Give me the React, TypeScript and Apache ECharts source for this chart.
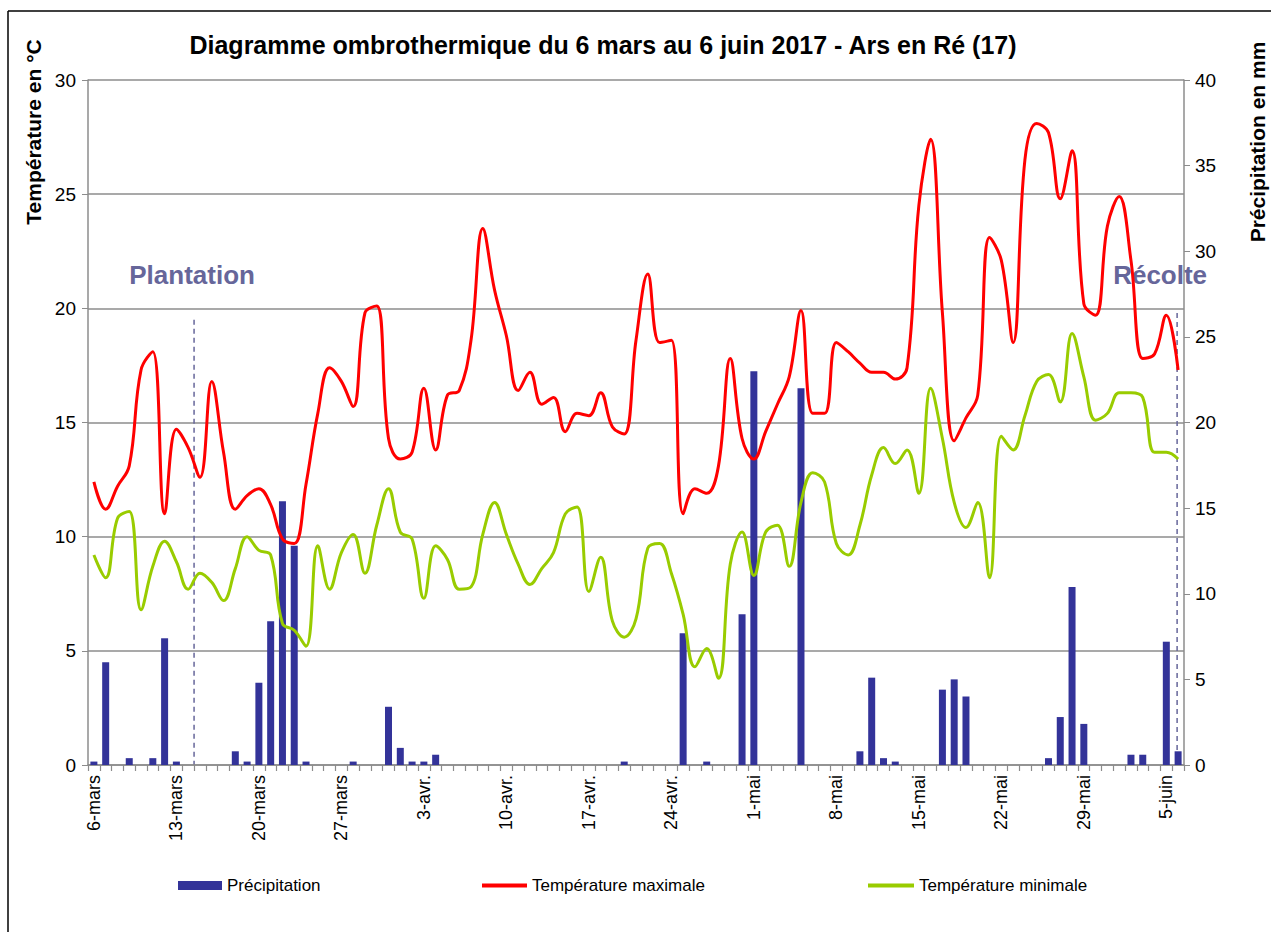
import React, { useEffect, useRef } from "react";
import * as echarts from "echarts";

const monthSpans: [string, number, number][] = [
  ["mars", 6, 31],
  ["avr.", 1, 30],
  ["mai", 1, 31],
  ["juin", 1, 6],
];
const categories: string[] = [];
monthSpans.forEach(([m, a, b]) => {
  for (let d = a; d <= b; d++) categories.push(`${d}-${m}`);
});

// Précipitation (mm), one value per day from 6 mars to 6 juin
const precipitation = [
  0.2, 6.0, 0, 0.4, 0, 0.4, 7.4, 0.2, 0, 0,
  0, 0, 0.8, 0.2, 4.8, 8.4, 15.4, 12.8, 0.2, 0,
  0, 0, 0.2, 0, 0, 3.4, 1.0, 0.2, 0.2, 0.6,
  0, 0, 0, 0, 0, 0, 0, 0, 0, 0,
  0, 0, 0, 0, 0, 0.2, 0, 0, 0, 0,
  7.7, 0, 0.2, 0, 0, 8.8, 23.0, 0, 0, 0,
  22.0, 0, 0, 0, 0, 0.8, 5.1, 0.4, 0.2, 0,
  0, 0, 4.4, 5.0, 4.0, 0, 0, 0, 0, 0,
  0, 0.4, 2.8, 10.4, 2.4, 0, 0, 0, 0.6, 0.6,
  0, 7.2, 0.8,
];

// Température maximale (°C)
const tempMax = [
  12.4, 11.2, 12.2, 13.1, 17.3, 18.1, 11.0, 14.7, 13.9, 12.6,
  16.8, 13.7, 11.2, 11.8, 12.1, 11.4, 9.9, 9.7, 12.3, 15.4,
  17.4, 16.8, 15.7, 19.8, 20.1, 14.3, 13.4, 13.7, 16.5, 13.8,
  16.2, 16.4, 18.6, 23.5, 20.8, 18.8, 16.4, 17.2, 15.8, 16.1,
  14.6, 15.4, 15.3, 16.3, 14.8, 14.5, 18.6, 21.5, 18.5, 18.6,
  11.0, 12.1, 11.9, 13.1, 17.8, 14.3, 13.4, 14.6, 15.8, 17.0,
  19.9, 15.4, 15.4, 18.5, 18.1, 17.6, 17.2, 17.2, 16.9, 17.4,
  24.5, 27.4, 19.8, 14.2, 15.2, 16.2, 23.1, 22.1, 18.5, 26.5,
  28.1, 27.7, 24.8, 26.9, 20.2, 19.7, 23.6, 24.9, 22.1, 17.8,
  18.0, 19.7, 17.3,
];

// Température minimale (°C)
const tempMin = [
  9.2, 8.2, 10.8, 11.1, 6.8, 8.7, 9.8, 8.9, 7.7, 8.4,
  8.0, 7.2, 8.6, 10.0, 9.4, 9.2, 6.2, 5.9, 5.2, 9.6,
  7.7, 9.3, 10.1, 8.4, 10.5, 12.1, 10.2, 9.9, 7.3, 9.6,
  9.0, 7.7, 7.8, 10.1, 11.5, 10.1, 8.8, 7.9, 8.6, 9.3,
  11.0, 11.3, 7.6, 9.1, 6.3, 5.6, 6.4, 9.5, 9.7, 8.4,
  6.6, 4.3, 5.1, 3.8, 8.8, 10.2, 8.3, 10.2, 10.5, 8.7,
  11.5, 12.8, 12.4, 9.7, 9.2, 10.5, 12.7, 13.9, 13.2, 13.8,
  11.9, 16.5, 14.3, 11.5, 10.4, 11.5, 8.2, 14.4, 13.8, 15.3,
  16.8, 17.1, 15.9, 18.9, 17.0, 15.1, 15.4, 16.3, 16.3, 16.1,
  13.7, 13.7, 13.4,
];

const seriesNames = ["Précipitation", "Température maximale", "Température minimale"];
const FONT = "'Liberation Sans', Arial, sans-serif";
const ANNOT = "#66669a";
const GRID = "#8c8c8c";

export default function App() {
  const ref = useRef<HTMLDivElement>(null);
  useEffect(() => {
    document.body.style.margin = "0";
    const chart = echarts.init(ref.current!, null, { renderer: "svg" });
    const legendBase = {
      top: 872,
      orient: "horizontal",
      textStyle: { fontFamily: FONT, fontSize: 17, color: "#000" },
      itemGap: 8,
      selectedMode: false,
    };
    chart.setOption({
      animation: false,
      backgroundColor: "#fff",
      title: {
        text: "Diagramme ombrothermique du 6 mars au 6 juin 2017 - Ars en Ré (17)",
        left: 598,
        textAlign: "center",
        top: 27,
        textStyle: { fontFamily: FONT, fontSize: 25, fontWeight: "bold", color: "#000" },
      },
      legend: [
        { ...legendBase, left: 173, data: [{ name: seriesNames[0], icon: "rect" }], itemWidth: 44, itemHeight: 9 },
        { ...legendBase, left: 477, data: [{ name: seriesNames[1], icon: "rect" }], itemWidth: 45, itemHeight: 4 },
        { ...legendBase, left: 863, data: [{ name: seriesNames[2], icon: "rect" }], itemWidth: 46, itemHeight: 4 },
      ],
      grid: { left: 88, right: 87, top: 80, bottom: 167 },
      xAxis: {
        type: "category",
        data: categories,
        boundaryGap: true,
        axisLine: { lineStyle: { color: GRID, width: 1.5 } },
        axisTick: { show: true, interval: 0, alignWithLabel: false, length: 6, lineStyle: { color: GRID, width: 1.2 } },
        axisLabel: {
          interval: 6,
          rotate: 90,
          fontFamily: FONT,
          fontSize: 18,
          color: "#000",
          margin: 10,
        },
        splitLine: { show: false },
      },
      yAxis: [
        {
          type: "value",
          min: 0,
          max: 30,
          interval: 5,
          axisLine: { show: true, lineStyle: { color: GRID, width: 1.5 } },
          axisTick: { show: true, length: 6, lineStyle: { color: GRID } },
          axisLabel: { fontFamily: FONT, fontSize: 19, color: "#000", margin: 12 },
          splitLine: { show: true, lineStyle: { color: GRID, width: 1.5 } },
        },
        {
          type: "value",
          min: 0,
          max: 40,
          interval: 5,
          position: "right",
          axisLine: { show: true, lineStyle: { color: GRID, width: 1.5 } },
          axisTick: { show: true, length: 6, lineStyle: { color: GRID } },
          axisLabel: { fontFamily: FONT, fontSize: 19, color: "#000", margin: 11 },
          splitLine: { show: false },
        },
      ],
      series: [
        {
          name: seriesNames[0],
          type: "bar",
          yAxisIndex: 1,
          data: precipitation,
          barWidth: 7,
          itemStyle: { color: "#333399" },
        },
        {
          name: seriesNames[1],
          type: "line",
          yAxisIndex: 0,
          data: tempMax,
          smooth: 0.4,
          symbol: "none",
          lineStyle: { color: "#ff0000", width: 3 },
          itemStyle: { color: "#ff0000" },
        },
        {
          name: seriesNames[2],
          type: "line",
          yAxisIndex: 0,
          data: tempMin,
          smooth: 0.4,
          symbol: "none",
          lineStyle: { color: "#99cc00", width: 3 },
          itemStyle: { color: "#99cc00" },
        },
      ],
    });

    const px = (i: number) => chart.convertToPixel({ xAxisIndex: 0 }, categories[i]) as number;
    const py = (v: number) => chart.convertToPixel({ yAxisIndex: 0 }, v) as number;
    const plantX = (px(8) + px(9)) / 2;
    const recolteX = px(92) - 1;
    const y0 = py(0);

    chart.setOption({
      graphic: [
        { type: "line", shape: { x1: 8, y1: 11, x2: 1271, y2: 11 }, style: { stroke: "#000", lineWidth: 1.5 } },
        { type: "line", shape: { x1: 8, y1: 11, x2: 8, y2: 932 }, style: { stroke: "#000", lineWidth: 1.5 } },
        {
          type: "text",
          x: 33,
          y: 132,
          rotation: Math.PI / 2,
          style: {
            text: "Température en °C",
            fontFamily: FONT,
            fontSize: 21,
            fontWeight: "bold",
            fill: "#000",
            textAlign: "center",
            textVerticalAlign: "middle",
          },
        },
        {
          type: "text",
          x: 1257,
          y: 142,
          rotation: Math.PI / 2,
          style: {
            text: "Précipitation en mm",
            fontFamily: FONT,
            fontSize: 21,
            fontWeight: "bold",
            fill: "#000",
            textAlign: "center",
            textVerticalAlign: "middle",
          },
        },
        {
          type: "line",
          shape: { x1: plantX, y1: py(19.5), x2: plantX, y2: y0 },
          style: { stroke: ANNOT, lineWidth: 1.5, lineDash: [5, 4] },
        },
        {
          type: "line",
          shape: { x1: recolteX, y1: py(19.8), x2: recolteX, y2: y0 },
          style: { stroke: ANNOT, lineWidth: 1.5, lineDash: [5, 4] },
        },
        {
          type: "text",
          x: plantX - 2,
          y: py(21.45),
          style: {
            text: "Plantation",
            fontFamily: FONT,
            fontSize: 26,
            fontWeight: "bold",
            fill: ANNOT,
            textAlign: "center",
            textVerticalAlign: "middle",
          },
        },
        {
          type: "text",
          x: recolteX - 17,
          y: py(21.45),
          style: {
            text: "Récolte",
            fontFamily: FONT,
            fontSize: 26,
            fontWeight: "bold",
            fill: ANNOT,
            textAlign: "center",
            textVerticalAlign: "middle",
          },
        },
      ],
    });
    return () => chart.dispose();
  }, []);
  return <div ref={ref} style={{ width: 1271, height: 932 }} />;
}
